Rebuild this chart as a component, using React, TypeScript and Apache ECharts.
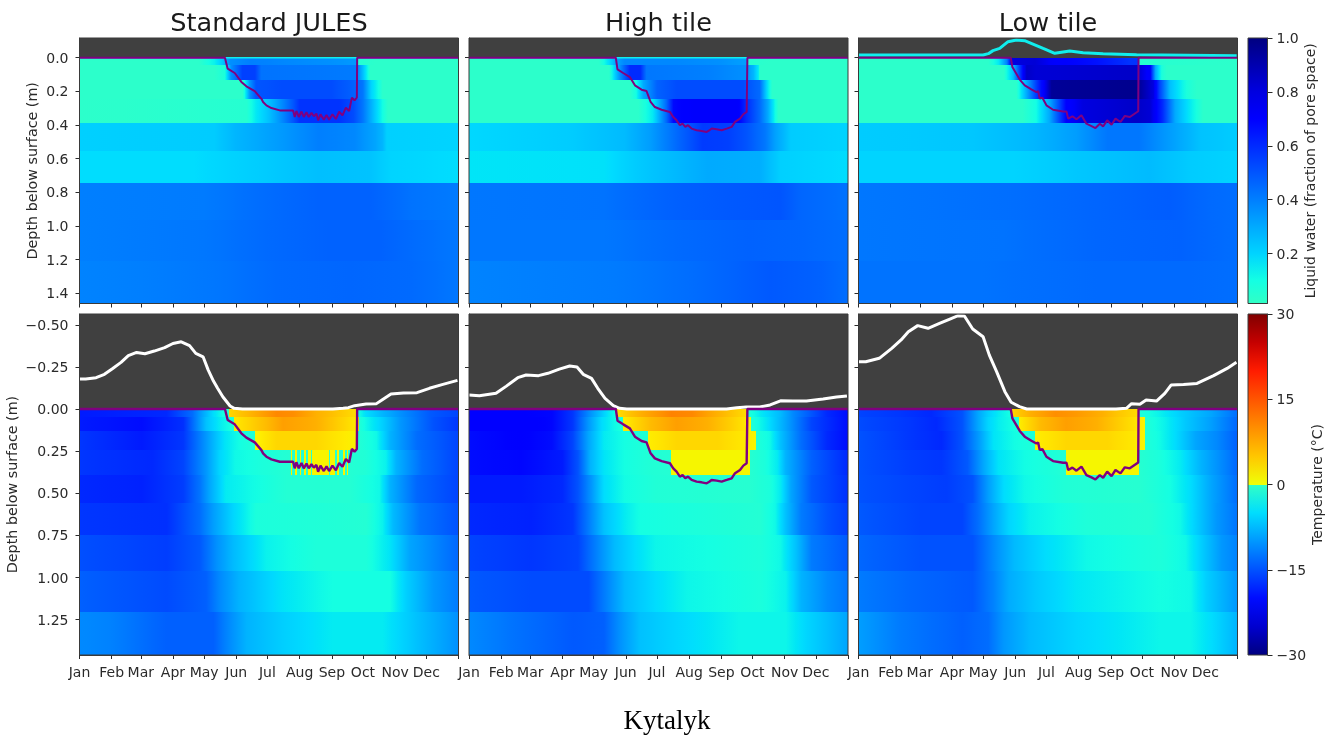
import React, { useEffect, useRef } from "react";
import * as echarts from "echarts";

// Soil layer boundaries (m below surface)
const layerDepths = [0, 0.045, 0.133, 0.246, 0.389, 0.555, 0.746, 0.962, 1.205, 1.46];
const monthTicks = [0, 31, 59, 90, 120, 151, 181, 212, 243, 273, 304, 334, 365];
const monthNames = ["Jan", "Feb", "Mar", "Apr", "May", "Jun", "Jul", "Aug", "Sep", "Oct", "Nov", "Dec"];
const panelTitles = ["Standard JULES", "High tile", "Low tile"];
const waterDepthTicks = [0, 0.2, 0.4, 0.6, 0.8, 1.0, 1.2, 1.4];
const tempDepthTicks = [-0.5, -0.25, 0, 0.25, 0.5, 0.75, 1.0, 1.25];
const waterBarTicks = [0.2, 0.4, 0.6, 0.8, 1.0];
const tempBarTicks = [-30, -15, 0, 15, 30];

// Each row is one layer: day, value, day, value ...
const waterStd = [
  [0,.03, 115,.03, 122,.08, 130,.13, 137,.22, 145,.36, 165,.40, 200,.38, 240,.36, 267,.34, 267.5,.06, 285,.03, 365,.03],
  [0,.03, 130,.03, 140,.08, 146,.36, 157,.55, 169,.55, 175,.43, 230,.42, 267,.41, 273,.25, 278,.1, 280,.03, 365,.03],
  [0,.03, 157,.03, 159,.1, 164,.35, 170,.5, 195,.52, 243,.52, 264,.47, 273,.42, 281,.2, 288,.1, 292,.03, 365,.03],
  [0,.03, 161,.05, 170,.15, 183,.25, 193,.35, 206,.5, 212,.58, 250,.58, 264,.52, 273,.42, 283,.25, 292,.1, 297,.03, 365,.03],
  [0,.21, 130,.22, 150,.27, 190,.33, 230,.40, 265,.38, 285,.31, 292,.27, 296,.21, 365,.20],
  [0,.18, 110,.18, 160,.21, 230,.25, 280,.24, 300,.20, 365,.18],
  [0,.40, 120,.41, 170,.44, 230,.47, 280,.47, 320,.43, 365,.41],
  [0,.40, 120,.42, 180,.45, 240,.47, 290,.47, 330,.44, 365,.42],
  [0,.39, 60,.40, 130,.42, 190,.45, 260,.46, 320,.45, 365,.42],
];
const waterHigh = [
  [0,.03, 125,.03, 130,.1, 136,.2, 141,.3, 150,.38, 200,.38, 240,.36, 268.3,.32, 268.5,.05, 290,.03, 365,.03],
  [0,.03, 135,.03, 145,.35, 155,.6, 165,.6, 171,.42, 230,.40, 267,.36, 274,.27, 279,.14, 280,.03, 365,.03],
  [0,.03, 155,.03, 161,.1, 168,.3, 181,.47, 200,.52, 264,.52, 280,.45, 288,.15, 292,.03, 365,.03],
  [0,.03, 163,.03, 177,.15, 190,.45, 197,.68, 216,.74, 258,.74, 267,.6, 280,.45, 288,.3, 295,.1, 298,.03, 365,.03],
  [0,.19, 100,.22, 150,.26, 175,.33, 200,.45, 225,.56, 250,.55, 268,.5, 285,.42, 295,.32, 310,.22, 365,.2],
  [0,.16, 130,.17, 160,.22, 230,.3, 280,.29, 300,.21, 365,.18],
  [0,.42, 130,.43, 190,.47, 250,.49, 300,.5, 320,.46, 365,.43],
  [0,.42, 130,.42, 200,.45, 270,.47, 320,.46, 365,.44],
  [0,.39, 140,.41, 210,.44, 290,.49, 340,.47, 365,.44],
];
const waterLow = [
  [0,.03, 125,.03, 135,.15, 143,.4, 148,.8, 170,.82, 190,.72, 230,.66, 262,.58, 269,.58, 269.3,.05, 365,.03],
  [0,.03, 140,.03, 149,.25, 155,.55, 162,.85, 171,.82, 268,.85, 281,.7, 286,.3, 292,.08, 297,.03, 365,.03],
  [0,.03, 152,.03, 162,.3, 171,.55, 181,.8, 186,.95, 268,.97, 284,.8, 290,.55, 300,.25, 316,.08, 326,.03, 365,.03],
  [0,.03, 158,.03, 171,.1, 184,.3, 200,.7, 216,.8, 268,.85, 281,.82, 293,.6, 305,.3, 319,.15, 332,.03, 365,.03],
  [0,.22, 110,.23, 170,.27, 210,.33, 240,.42, 270,.42, 290,.36, 310,.30, 330,.24, 365,.22],
  [0,.2, 150,.2, 210,.23, 280,.26, 320,.22, 365,.2],
  [0,.42, 150,.44, 220,.46, 300,.48, 340,.45, 365,.44],
  [0,.42, 140,.43, 230,.46, 310,.47, 365,.44],
  [0,.43, 120,.43, 230,.45, 320,.45, 365,.44],
];
const tempStd = [
  [0,-19, 84,-18, 109,-13, 116,-10, 129,-5, 138,-2.5, 143,-1.5, 144,3.5, 167,7, 190,10.5, 206,10, 228,7, 244,5.5, 267,3, 267.5,-2, 276,-5, 290,-7.5, 308,-10.3, 338,-14.5, 365,-16],
  [0,-19, 60,-20, 100,-17.5, 122,-7, 135,-4, 145,-2.5, 148,-1.5, 149,2, 180,6, 196,8.5, 228,7, 244,5, 267,2, 269,1.5, 269.5,-1.5, 276,-3, 292,-6, 309,-10, 341,-15, 365,-17],
  [0,-17, 60,-19, 100,-17, 125,-9, 140,-4.5, 155,-2.5, 168,-1.5, 169,1, 190,3.5, 228,3.5, 244,2.5, 267,1, 267.5,-1.2, 286,-3, 299,-8, 325,-13, 365,-16],
  [0,-17, 70,-18, 100,-16, 122,-10, 135,-5.5, 150,-3, 175,-2, 203,-1.2, 204,1, 205,-1.2, 208,1, 209.5,-1.2, 212,1, 213.5,-1.2, 216,1, 218,-1.2, 220,1, 223,-1.2, 224,1, 240,-1.2, 241.5,1, 246,-1.2, 248,1, 250,-1.2, 254,1, 255.5,-1.2, 258,1, 259,-1.2, 275,-1.5, 295,-3.5, 305,-8, 330,-13, 365,-16],
  [0,-18, 60,-18.5, 100,-16.5, 116,-12.5, 125,-9, 141,-4, 167,-2.8, 200,-1.3, 260,-1.2, 289,-3, 299,-8, 325,-13.5, 365,-16],
  [0,-17, 84,-17.5, 116,-13, 129,-9.5, 148,-5.5, 170,-2, 276,-1.3, 292,-3.5, 302,-7.5, 328,-12.5, 365,-15],
  [0,-15.2, 84,-16.5, 116,-14.5, 132,-10.5, 148,-7.5, 180,-3.5, 228,-1.8, 276,-1.8, 299,-4.5, 318,-9, 365,-13.5],
  [0,-14, 84,-15.5, 122,-14, 135,-11, 154,-8, 196,-4.5, 244,-2.5, 299,-2.5, 315,-6, 341,-10, 365,-12],
  [0,-11, 29,-11.5, 84,-14, 129,-14, 141,-11.5, 161,-8, 196,-6, 244,-4, 292,-4, 325,-7, 365,-10.5],
];
const tempHigh = [
  [0,-21, 45,-21, 80,-20.5, 100,-17, 115,-11, 125,-7.5, 135,-4, 141.4,-2.5, 142,3, 165,7, 195,11, 215,10.5, 235,7.5, 250,5.5, 268,3, 268.5,-1.5, 280,-4, 300,-7.5, 312,-11, 345,-18, 365,-20],
  [0,-21, 50,-21.5, 80,-20.5, 100,-17, 115,-10, 128,-5, 140,-3, 147,-2, 148,1.5, 175,6, 200,8.5, 230,7, 250,4.5, 268,2, 271,1, 271.5,-1.5, 285,-4, 305,-9, 330,-16, 365,-20],
  [0,-20, 50,-21, 80,-20, 100,-16, 115,-9, 130,-4, 150,-2.5, 172,-1.5, 172.1,1.5, 200,3.5, 240,3.5, 265,2, 276,1, 276.2,-1.5, 290,-3, 300,-7, 320,-13, 345,-18, 365,-20],
  [0,-20, 50,-20.5, 90,-19, 105,-15, 117,-8, 130,-4.5, 150,-2.5, 175,-1.5, 194,-1.2, 194.1,.8, 271,.8, 271.1,-1, 285,-2, 297,-4, 305,-8, 330,-14, 365,-18],
  [0,-19, 50,-19, 90,-18, 105,-15, 118,-10, 130,-5, 150,-2.7, 180,-1.5, 270,-1, 290,-2, 300,-4, 310,-9, 330,-14.5, 365,-17.5],
  [0,-18, 60,-18.5, 100,-17, 115,-12, 130,-7, 150,-4, 165,-2.5, 280,-1.3, 295,-3, 305,-7, 320,-12, 345,-15, 365,-16.5],
  [0,-16, 60,-17, 105,-16, 125,-11, 140,-7.5, 160,-5, 180,-3.2, 280,-1.8, 300,-3, 315,-7, 330,-12, 365,-14.5],
  [0,-14.5, 60,-15.5, 115,-15.5, 130,-12, 150,-7.5, 180,-5, 210,-3.2, 280,-2, 305,-3.5, 320,-8, 345,-11, 365,-12.5],
  [0,-11, 40,-12.5, 100,-14.5, 130,-14, 145,-10.5, 165,-7, 200,-5.5, 260,-3.2, 305,-3.2, 325,-5.5, 365,-9],
];
const tempLow = [
  [0,-16, 40,-17, 70,-18, 100,-15, 115,-9, 125,-6, 135,-4, 146,-2.5, 147,3.5, 165,7, 190,10, 210,9, 235,7, 250,5, 270,3, 270.2,-1.5, 290,-3.5, 310,-6, 340,-9, 365,-13],
  [0,-15.5, 50,-17, 75,-18, 100,-15, 115,-9, 125,-5.5, 135,-3.8, 154,-2, 154.5,1.5, 175,6, 200,8.5, 230,7, 250,4.5, 270,2, 276,1, 276.1,-1.5, 295,-3.5, 315,-6.5, 340,-9.5, 365,-13.5],
  [0,-15, 50,-17, 80,-18, 100,-15, 115,-10, 130,-4.5, 150,-2.7, 170,-1.7, 170.1,1.5, 200,3.5, 240,3.5, 265,2, 276,1, 276.1,-1.5, 290,-2.8, 305,-5, 325,-9, 345,-11, 365,-14],
  [0,-15, 50,-16.5, 80,-17, 105,-14.5, 120,-9, 135,-4.5, 160,-2.7, 190,-1.7, 200,-1.2, 200.1,.8, 270,.8, 270.1,-1, 290,-2, 310,-4, 330,-8, 350,-11, 365,-13.5],
  [0,-15, 50,-16, 85,-16.5, 110,-15, 125,-9.5, 140,-5, 160,-3, 200,-1.5, 270,-1, 300,-2.5, 320,-5, 340,-9, 365,-13],
  [0,-14.5, 60,-16, 100,-16, 115,-13, 130,-9, 145,-5.5, 165,-3.5, 220,-1.7, 280,-1.3, 310,-3, 325,-6, 345,-10, 365,-12.5],
  [0,-13.5, 60,-15, 110,-15, 130,-11, 150,-7.5, 180,-5, 220,-3, 290,-1.8, 315,-3, 330,-6, 350,-10, 365,-11.5],
  [0,-12, 50,-13.5, 110,-14.5, 130,-11.5, 145,-8.5, 170,-6.5, 210,-4.3, 290,-2.5, 320,-3, 335,-6, 365,-10],
  [0,-9.5, 40,-12, 100,-14, 125,-13, 140,-10, 165,-7.5, 210,-5.5, 290,-3.2, 320,-3.2, 340,-5, 365,-8],
];

// Thaw depth (day, m)
const thawStd = [[0,0],[140.1,0],[142.7,.065],[149.5,.091],[155.9,.144],[160.7,.170],[168.8,.198],[175.2,.244],[176.8,.263],[180,.283],[184.8,.299],[192.9,.313],[205.7,.313],[207.3,.352],[208.9,.316],[211.2,.352],[213.8,.320],[216,.352],[218.6,.324],[220.8,.352],[223.4,.328],[225.7,.348],[228.2,.332],[229.8,.372],[232.1,.336],[235.3,.368],[237.9,.340],[240.4,.368],[243.6,.336],[246.9,.364],[250.1,.321],[253.3,.343],[256.5,.297],[259.7,.317],[262.3,.237],[264.9,.253],[267.1,.237],[267.4,0],[365,0]];
const thawHigh = [[0,0],[141.4,0],[143,.069],[148.5,.091],[154.9,.115],[159.8,.164],[166.2,.190],[171,.198],[174.9,.263],[179,.293],[185.5,.309],[193.5,.322],[196.7,.352],[199.9,.372],[203.1,.401],[205.7,.392],[208.3,.411],[210.9,.401],[214.4,.421],[219.2,.431],[224,.435],[228.9,.441],[231.4,.432],[233.7,.421],[238.5,.425],[243.3,.431],[248.2,.421],[253,.411],[256.2,.381],[261,.362],[264.2,.336],[267.4,.322],[268.1,0],[365,0]];
const thawLow = [[0,0],[146.6,0],[148.2,.055],[155.3,.130],[160.1,.164],[166.5,.188],[171.3,.205],[173,.198],[174.5,.243],[177.1,.238],[181,.283],[187.4,.309],[197,.319],[200.3,.319],[201.9,.362],[206,.348],[209.9,.366],[214.7,.342],[219.5,.392],[224.4,.406],[228.2,.418],[232.4,.392],[235.6,.408],[239.5,.372],[243.7,.398],[247.5,.362],[252.3,.382],[256.5,.346],[261.3,.352],[269.4,.318],[269.7,0],[365,0]];

// Snow surface (day, m; negative is above ground)
const snowStd = [[0,-.178],[6,-.178],[16,-.186],[24,-.206],[32,-.241],[40,-.277],[47,-.317],[55,-.336],[63,-.328],[72,-.344],[82,-.364],[90,-.389],[98,-.399],[106,-.376],[112,-.330],[119,-.310],[124,-.231],[129,-.166],[133,-.123],[138,-.073],[145,-.018],[149,-.004],[157,0],[244,0],[254,-.004],[259,-.008],[265,-.02],[276,-.03],[286,-.032],[292,-.057],[300,-.089],[312,-.095],[325,-.097],[337,-.123],[350,-.146],[364,-.170]];
const snowHigh = [[0,-.083],[10,-.079],[26,-.093],[36,-.136],[47,-.186],[55,-.202],[67,-.198],[76,-.212],[87,-.237],[97,-.255],[104,-.249],[110,-.206],[118,-.182],[124,-.123],[131,-.063],[139,-.020],[145,-.004],[152,0],[248,0],[258,-.008],[267,-.012],[280,-.012],[290,-.024],[300,-.049],[312,-.047],[325,-.047],[341,-.059],[354,-.071],[364,-.077]];
const snowLow = [[0,-.281],[7,-.281],[20,-.301],[32,-.36],[41,-.41],[48,-.459],[57,-.495],[67,-.479],[78,-.508],[88,-.534],[96,-.554],[102,-.552],[110,-.475],[120,-.429],[126,-.32],[133,-.222],[141,-.103],[147,-.04],[155,-.014],[162,0],[248,0],[258,-.004],[263,-.032],[271,-.028],[277,-.053],[287,-.047],[295,-.093],[301,-.142],[313,-.146],[326,-.152],[342,-.198],[355,-.241],[364,-.277]];

// Surface water (day, m)
const pondStd = [[0,0],[365,0]];
const pondHigh = [[0,0],[365,0]];
const pondLow = [[0,-.016],[120,-.016],[125,-.024],[129.5,-.042],[136,-.055],[144,-.095],[152,-.105],[160,-.101],[168,-.081],[177.8,-.055],[189,-.026],[203.5,-.040],[216.3,-.03],[235.6,-.024],[267.8,-.018],[364.2,-.012]];

const lerpKnots = (t: number, k: number[][]) => {
  if (t <= k[0][0]) return k[0][1];
  for (let i = 1; i < k.length; i++) {
    if (t <= k[i][0]) return k[i - 1][1] + ((t - k[i - 1][0]) / (k[i][0] - k[i - 1][0])) * (k[i][1] - k[i - 1][1]);
  }
  return k[k.length - 1][1];
};
const jetR = [[0, 0], [0.35, 0], [0.66, 1], [0.89, 1], [1, 0.5]];
const jetG = [[0, 0], [0.125, 0], [0.375, 1], [0.64, 1], [0.91, 0], [1, 0]];
const jetB = [[0, 0.5], [0.11, 1], [0.34, 1], [0.65, 0], [1, 0]];
const jet = (t: number) => {
  const c = (k: number[][]) => Math.round(255 * lerpKnots(t, k));
  return `rgb(${c(jetR)},${c(jetG)},${c(jetB)})`;
};
const waterColor = (w: number) => jet((0.41 * (1 - w)) / 0.985);
const tempColor = (v: number) => (v >= 0 ? jet(0.64 + (0.36 * v) / 30) : jet((0.41 * (v + 30)) / 30));

const rowStops = (row: number[], color: (v: number) => string) => {
  const stops: { offset: number; color: string }[] = [];
  for (let i = 0; i + 3 < row.length; i += 2) {
    const d0 = row[i], v0 = row[i + 1], d1 = row[i + 2], v1 = row[i + 3];
    if (v0 * v1 < 0) {
      stops.push({ offset: d0 / 365, color: color(v0) });
      stops.push({ offset: d1 / 365, color: color(v0) });
      stops.push({ offset: d1 / 365, color: color(v1) });
    } else {
      for (let s = 0; s <= 4; s++) {
        const f = s / 4;
        stops.push({ offset: (d0 + (d1 - d0) * f) / 365, color: color(v0 + (v1 - v0) * f) });
      }
    }
  }
  return stops;
};

const fontUI = "DejaVu Sans";
const ink = "#2a2a2a";
const frame = "#3a3a3a";
const colX = [79.5, 469, 858.5];
const colW = 379;
const rowY = [38, 314];
const rowH = [265.5, 341];
const barX = 1248;
const barW = 19.5;

const fmtMinus = (s: string) => s.replace("-", "\u2212");

function buildOption() {
  const grids: any[] = [], xAxes: any[] = [], yAxes: any[] = [], series: any[] = [], frames: any[] = [];
  const rowSets = [[waterStd, waterHigh, waterLow], [tempStd, tempHigh, tempLow]];
  const thaws = [thawStd, thawHigh, thawLow];
  const snows = [snowStd, snowHigh, snowLow];
  const ponds = [pondStd, pondHigh, pondLow];
  const tickLine = { show: true, length: 4, lineStyle: { color: ink, width: 1 } };
  const axisLine = { show: true, onZero: false, lineStyle: { color: frame, width: 1 } };

  const addRect = (x: number, y: number, w: number, h: number) =>
    frames.push({ type: "rect", silent: true, z: 50, shape: { x, y, width: w, height: h }, style: { fill: "transparent", stroke: frame, lineWidth: 1 } });

  for (let r = 0; r < 2; r++) {
    for (let c = 0; c < 3; c++) {
      const idx = grids.length;
      grids.push({ show: true, backgroundColor: "#404040", borderWidth: 0, left: colX[c], top: rowY[r], width: colW, height: rowH[r], containLabel: false });
      addRect(colX[c], rowY[r], colW, rowH[r]);
      xAxes.push({
        gridIndex: idx, type: "value", min: 0, max: 365, position: "bottom",
        splitLine: { show: false }, axisLine,
        axisTick: { ...tickLine, customValues: monthTicks },
        axisLabel: r === 1
          ? { show: true, customValues: monthTicks.slice(0, 12), margin: 10, fontFamily: fontUI, fontSize: 14, color: ink,
              formatter: (v: number) => monthNames[monthTicks.indexOf(v)] }
          : { show: false },
      });
      const ticks = r === 0 ? waterDepthTicks : tempDepthTicks;
      yAxes.push({
        gridIndex: idx, type: "value", inverse: true, position: "left",
        min: r === 0 ? -0.117 : -0.564, max: 1.46,
        splitLine: { show: false }, axisLine,
        axisTick: { ...tickLine, customValues: ticks },
        axisLabel: c === 0
          ? { show: true, customValues: ticks, margin: 11, fontFamily: fontUI, fontSize: 14, color: ink,
              formatter: (v: number) => fmtMinus(v.toFixed(r === 0 ? 1 : 2)) }
          : { show: false },
        ...(c === 0
          ? { name: "Depth below surface (m)", nameLocation: "middle", nameGap: r === 0 ? 41 : 61, nameRotate: 90,
              nameTextStyle: { fontFamily: fontUI, fontSize: 14.3, color: ink } }
          : {}),
      });
      const rows = rowSets[r][c];
      const color = r === 0 ? waterColor : tempColor;
      series.push({
        type: "custom", xAxisIndex: idx, yAxisIndex: idx, silent: true, z: 2,
        data: rows.map((_: number[], i: number) => [0, layerDepths[i], i]),
        renderItem: (_p: any, api: any) => {
          const i = api.value(2);
          const a = api.coord([0, layerDepths[i]]);
          const b = api.coord([365, layerDepths[i + 1]]);
          const y0 = Math.round(a[1]), y1 = Math.round(b[1]);
          return {
            type: "rect",
            shape: { x: a[0], y: y0, width: b[0] - a[0], height: y1 - y0 },
            style: { fill: new echarts.graphic.LinearGradient(0, 0, 1, 0, rowStops(rows[i], color)) },
          };
        },
      });
      const surface = r === 0 ? ponds[c] : snows[c];
      series.push({
        type: "line", xAxisIndex: idx, yAxisIndex: idx, showSymbol: false, silent: true, z: 3, data: surface,
        lineStyle: { color: r === 0 ? "#10eeee" : "#ffffff", width: r === 0 ? (c === 2 ? 3 : 1.5) : 3 },
      });
      series.push({
        type: "line", xAxisIndex: idx, yAxisIndex: idx, showSymbol: false, silent: true, z: 4, data: thaws[c],
        lineStyle: { color: "#800080", width: r === 0 ? 2 : 2.4 },
      });
    }
  }

  // Colour bars
  const bars = [
    { min: 0.015, max: 1, ticks: waterBarTicks, dec: 1, name: "Liquid water (fraction of pore space)", gap: 32,
      stopsOf: () => [0.015, 0.1, 0.2, 0.3, 0.4, 0.5, 0.6, 0.7, 0.8, 0.9, 1].map((w) => ({ offset: (w - 0.015) / 0.985, color: waterColor(w) })) },
    { min: -30, max: 30, ticks: tempBarTicks, dec: 0, name: "Temperature (\u00b0C)", gap: 41,
      stopsOf: () => [-30, -25, -20, -15, -10, -5, -0.01, 0, 5, 10, 15, 20, 25, 30].map((v) => ({ offset: (v + 30) / 60, color: tempColor(v) })) },
  ];
  bars.forEach((b, r) => {
    const idx = grids.length;
    grids.push({ show: false, left: barX, top: rowY[r], width: barW, height: rowH[r], containLabel: false });
    addRect(barX, rowY[r], barW, rowH[r]);
    xAxes.push({ gridIndex: idx, type: "value", min: 0, max: 1, show: false });
    yAxes.push({
      gridIndex: idx, type: "value", position: "right", min: b.min, max: b.max,
      splitLine: { show: false }, axisLine,
      axisTick: { ...tickLine, length: 5, customValues: b.ticks },
      axisLabel: { show: true, customValues: b.ticks, margin: 9, fontFamily: fontUI, fontSize: 14, color: ink,
        formatter: (v: number) => fmtMinus(v.toFixed(b.dec)) },
      name: b.name, nameLocation: "middle", nameGap: b.gap, nameRotate: 90,
      nameTextStyle: { fontFamily: fontUI, fontSize: 14, color: ink },
    });
    series.push({
      type: "custom", xAxisIndex: idx, yAxisIndex: idx, silent: true,
      data: [[0, b.min]],
      renderItem: (_p: any, api: any) => {
        const a = api.coord([0, b.max]);
        const e = api.coord([1, b.min]);
        return {
          type: "rect",
          shape: { x: a[0], y: a[1], width: e[0] - a[0], height: e[1] - a[1] },
          style: { fill: new echarts.graphic.LinearGradient(0, 1, 0, 0, b.stopsOf()) },
        };
      },
    });
  });

  const titles: any[] = panelTitles.map((t, c) => ({
    text: t, left: colX[c] + colW / 2 - 5, top: 4, textAlign: "center",
    textStyle: { fontFamily: fontUI, fontSize: 25.6, fontWeight: "normal", color: "#1a1a1a" },
  }));
  titles.push({
    text: "Kytalyk", left: 662, top: 701, textAlign: "center",
    textStyle: { fontFamily: "Liberation Serif", fontSize: 27, fontWeight: "normal", color: "#000" },
  });

  return {
    animation: false, backgroundColor: "#ffffff",
    title: titles, grid: grids, xAxis: xAxes, yAxis: yAxes, series,
    graphic: { elements: frames },
  };
}

export default function App() {
  const ref = useRef<HTMLDivElement>(null);
  useEffect(() => {
    const chart = echarts.init(ref.current!, undefined, { renderer: "svg" });
    chart.setOption(buildOption());
    return () => chart.dispose();
  }, []);
  return <div ref={ref} style={{ position: "absolute", left: 0, top: 0, width: 1338, height: 738, filter: "blur(0.45px)" }} />;
}
